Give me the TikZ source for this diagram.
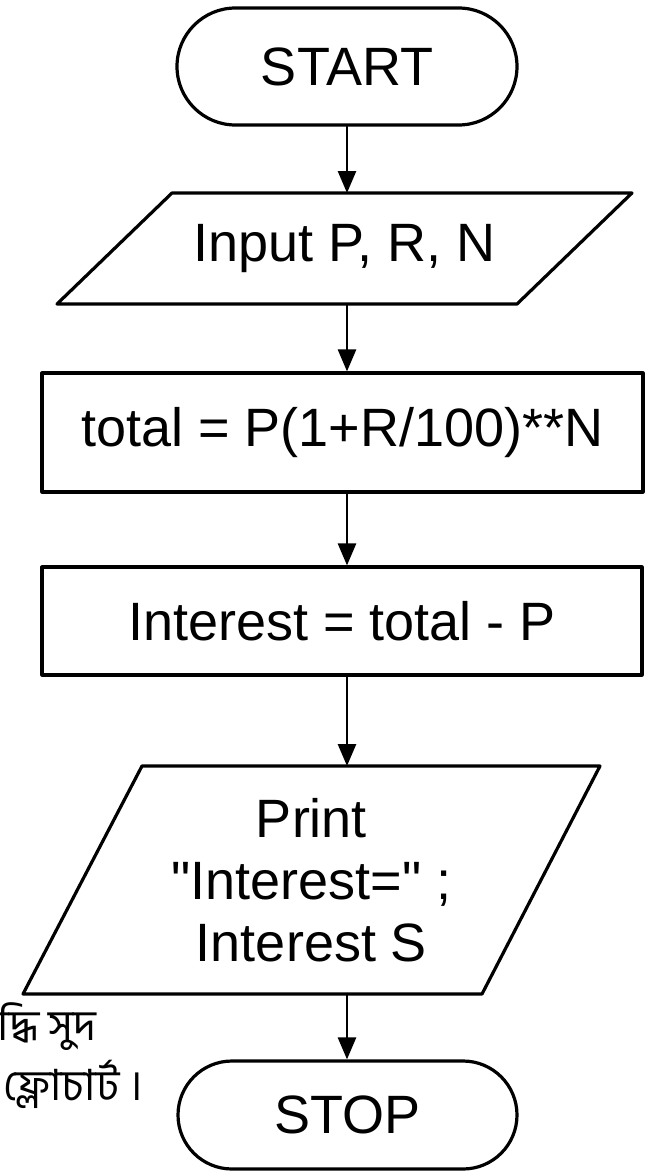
\documentclass[tikz,border=0pt]{standalone}
\usepackage{fontspec}
\setmainfont{Liberation Sans}
\newfontfamily\bengfont[Script=Bengali]{Hind Siliguri}
\usetikzlibrary{shapes.misc,arrows.meta}

\begin{document}
\begin{tikzpicture}[x=0.5pt,y=-0.5pt,line cap=round,line join=round,>={Triangle[length=11pt,width=9pt]},
  every node/.style={inner sep=0pt,font=\fontsize{27}{31}\selectfont},
  term/.style={draw,line width=1.6pt,rounded rectangle},
  proc/.style={draw,line width=1.6pt,rectangle},
  ioline/.style={line width=1.6pt},
  flow/.style={->,line width=1.3pt}]
  \clip (0,0) rectangle (670,1173);
  \coordinate (X) at (347,0);
  % input / output corners
  \coordinate (in1) at (172,193);
  \coordinate (in2) at (632,193);
  \coordinate (in3) at (517,304);
  \coordinate (in4) at (57,304);
  \coordinate (pr1) at (142,766);
  \coordinate (pr2) at (600,766);
  \coordinate (pr3) at (482,994);
  \coordinate (pr4) at (23,994);
  \draw[ioline] (in1) -- (in2) -- (in3) -- (in4) -- cycle;
  \draw[ioline] (pr1) -- (pr2) -- (pr3) -- (pr4) -- cycle;
  \node[term,minimum width=170pt,minimum height=58.5pt] (start) at (347,66.5) {START};
  \node (input) at (344.5,248.5) {Input P, R, N};
  \node[proc,minimum width=300.5pt,minimum height=59.5pt] (total) at (342.5,432.5) {total = P(1+R/100)**N};
  \node[proc,minimum width=300pt,minimum height=54pt] (interest) at (342,621) {Interest = total - P};
  \node[align=center] (print) at (311.5,880) {Print\\\textquotedbl Interest=\textquotedbl\ ;\\Interest S};
  \node[term,minimum width=169.5pt,minimum height=54pt] (stop) at (347.5,1115) {STOP};
  \draw[flow] (X |- start.south) -- (X |- in1);
  \draw[flow] (X |- in4) -- (X |- total.north);
  \draw[flow] (X |- total.south) -- (X |- interest.north);
  \draw[flow] (X |- interest.south) -- (X |- pr1);
  \draw[flow] (X |- pr4) -- (X |- stop.north);
  \node[anchor=base east,font=\bengfont\fontsize{21.5}{24}\selectfont] (cap1) at (97,1040) {দ্ধি সুদ};
  \node[anchor=base east,font=\bengfont\fontsize{21.5}{24}\selectfont] (cap2) at (143,1100) {ফ্লোচার্ট ।};
\end{tikzpicture}
\end{document}
